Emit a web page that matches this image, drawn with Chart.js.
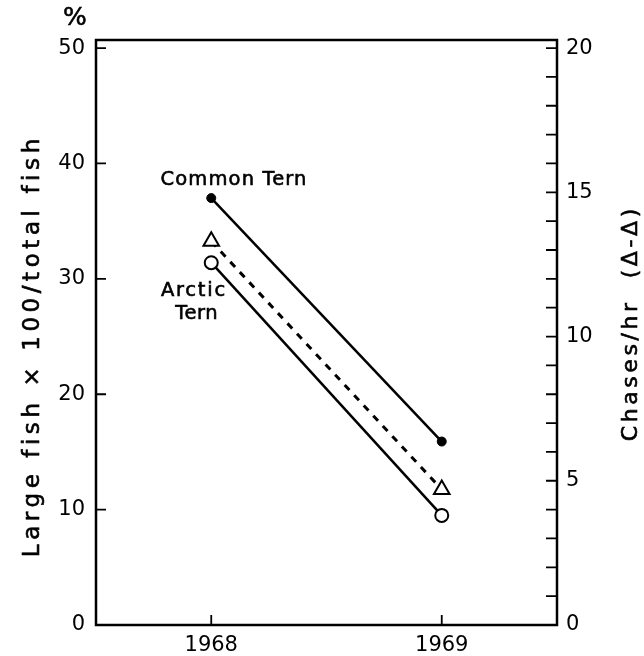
<!DOCTYPE html>
<html>
<head>
<meta charset="utf-8">
<script src="https://cdn.jsdelivr.net/npm/chart.js@4/dist/chart.umd.min.js"></script>
<style>
  html, body { margin: 0; padding: 0; background: #fff; }
  canvas { display: block; }
</style>
</head>
<body>
<canvas id="ternChart" width="644" height="656"></canvas>
<script>
// data
const years = [1968, 1969];
const commonTern = [37.0, 15.9];      // % large fish, left axis
const arcticTern = [31.4, 9.5];       // % large fish, left axis
const chasesPerHour = [13.3, 4.7];    // chases/hr, right axis
const leftTicks = [0, 10, 20, 30, 40, 50];
const rightTicks = [0, 5, 10, 15, 20];
const rightMinorTicks = [0, 1, 2, 3, 4, 5, 6, 7, 8, 9, 10, 11, 12, 13, 14, 15, 16, 17, 18, 19, 20];
const xTicks = [1968, 1969];

const FONT = "DejaVu Sans";
Chart.defaults.font.family = FONT;
Chart.defaults.color = "#000";

const leftMax = 50.7;
const rightMax = leftMax * 0.4;

function pts(vals) {
    return years.map((yr, i) => ({ x: yr, y: vals[i] }));
}

// draw text spread to a given width (the original lettering is wide)
function spacedText(ctx, str, cx, cy, width, size, rot) {
    ctx.save();
    ctx.font = size + "px '" + FONT + "'";
    ctx.letterSpacing = "0px";
    const w = ctx.measureText(str).width;
    const sp = Math.max(0, (width - w) / str.length);
    ctx.letterSpacing = sp + "px";
    ctx.translate(cx, cy);
    if (rot) ctx.rotate(rot);
    ctx.textAlign = "center";
    ctx.textBaseline = "middle";
    ctx.fillStyle = "#000";
    ctx.strokeStyle = "#000";
    ctx.lineWidth = 0.6;
    ctx.fillText(str, sp / 2, 0);
    ctx.strokeText(str, sp / 2, 0);
    ctx.restore();
}

const framePlugin = {
    id: "frame",
    afterDraw(chart) {
        const ctx = chart.ctx;
        const a = chart.chartArea;
        const sx = chart.scales.x, sy = chart.scales.y, sy2 = chart.scales.y2;
        ctx.save();
        ctx.strokeStyle = "#000";
        ctx.lineWidth = 2.5;
        ctx.strokeRect(a.left, a.top, a.right - a.left, a.bottom - a.top);

        ctx.lineWidth = 1.8;
        ctx.beginPath();
        leftTicks.forEach(v => {
            const py = sy.getPixelForValue(v);
            ctx.moveTo(a.left, py);
            ctx.lineTo(a.left + 10, py);
        });
        rightMinorTicks.forEach(v => {
            const py = sy2.getPixelForValue(v);
            ctx.moveTo(a.right, py);
            ctx.lineTo(a.right - 11, py);
        });
        xTicks.forEach(v => {
            const px = sx.getPixelForValue(v);
            ctx.moveTo(px, a.bottom);
            ctx.lineTo(px, a.bottom - 10);
        });
        ctx.stroke();
        ctx.restore();

        spacedText(ctx, "%", 75, 18, 24, 25, 0);
        spacedText(ctx, "Common Tern", 160 + 147 / 2, 180, 147, 19.5, 0);
        spacedText(ctx, "Arctic", 160 + 66 / 2, 291, 66, 19.5, 0);
        spacedText(ctx, "Tern", 175 + 43 / 2, 314, 43, 19.5, 0);
        spacedText(ctx, "Large fish \u00d7 100/total fish", 33, 348, 423, 23, -Math.PI / 2);
        spacedText(ctx, "Chases/hr  (\u0394-\u0394)", 631, 325, 236, 22, -Math.PI / 2);
    }
};

new Chart(document.getElementById("ternChart"), {
    type: "line",
    data: {
        datasets: [
            {
                label: "Common Tern",
                data: pts(commonTern),
                yAxisID: "y",
                borderColor: "#000",
                borderWidth: 2.5,
                pointStyle: "circle",
                pointRadius: 4.5,
                pointBackgroundColor: "#000",
                pointBorderColor: "#000",
                pointBorderWidth: 1
            },
            {
                label: "Chases/hr",
                data: pts(chasesPerHour),
                yAxisID: "y2",
                borderColor: "#000",
                borderWidth: 3,
                borderDash: [7, 7],
                pointStyle: "triangle",
                pointRadius: 9,
                pointBackgroundColor: "#fff",
                pointBorderColor: "#000",
                pointBorderWidth: 2
            },
            {
                label: "Arctic Tern",
                data: pts(arcticTern),
                yAxisID: "y",
                borderColor: "#000",
                borderWidth: 2.5,
                pointStyle: "circle",
                pointRadius: 6.5,
                pointBackgroundColor: "#fff",
                pointBorderColor: "#000",
                pointBorderWidth: 2
            }
        ]
    },
    options: {
        responsive: false,
        animation: false,
        devicePixelRatio: 1,
        layout: { padding: { top: 40, left: 0, right: 0, bottom: 0 } },
        plugins: {
            legend: { display: false },
            tooltip: { enabled: false }
        },
        scales: {
            x: {
                type: "linear",
                min: 1967.5,
                max: 1969.5,
                afterBuildTicks: s => { s.ticks = xTicks.map(v => ({ value: v })); },
                afterFit: s => { s.height = 31; },
                grid: { display: false, drawTicks: false },
                border: { display: false },
                ticks: {
                    font: { size: 21 },
                    padding: 8,
                    maxRotation: 0,
                    callback: v => String(v)
                }
            },
            y: {
                position: "left",
                min: 0,
                max: leftMax,
                afterBuildTicks: s => { s.ticks = leftTicks.map(v => ({ value: v })); },
                afterFit: s => { s.width = 96; },
                grid: { display: false, drawTicks: false },
                border: { display: false },
                ticks: { font: { size: 21 }, padding: 11 }
            },
            y2: {
                position: "right",
                min: 0,
                max: rightMax,
                afterBuildTicks: s => { s.ticks = rightTicks.map(v => ({ value: v })); },
                afterFit: s => { s.width = 87; },
                grid: { display: false, drawTicks: false },
                border: { display: false },
                ticks: { font: { size: 21 }, padding: 9 }
            }
        }
    },
    plugins: [framePlugin]
});
</script>
</body>
</html>
